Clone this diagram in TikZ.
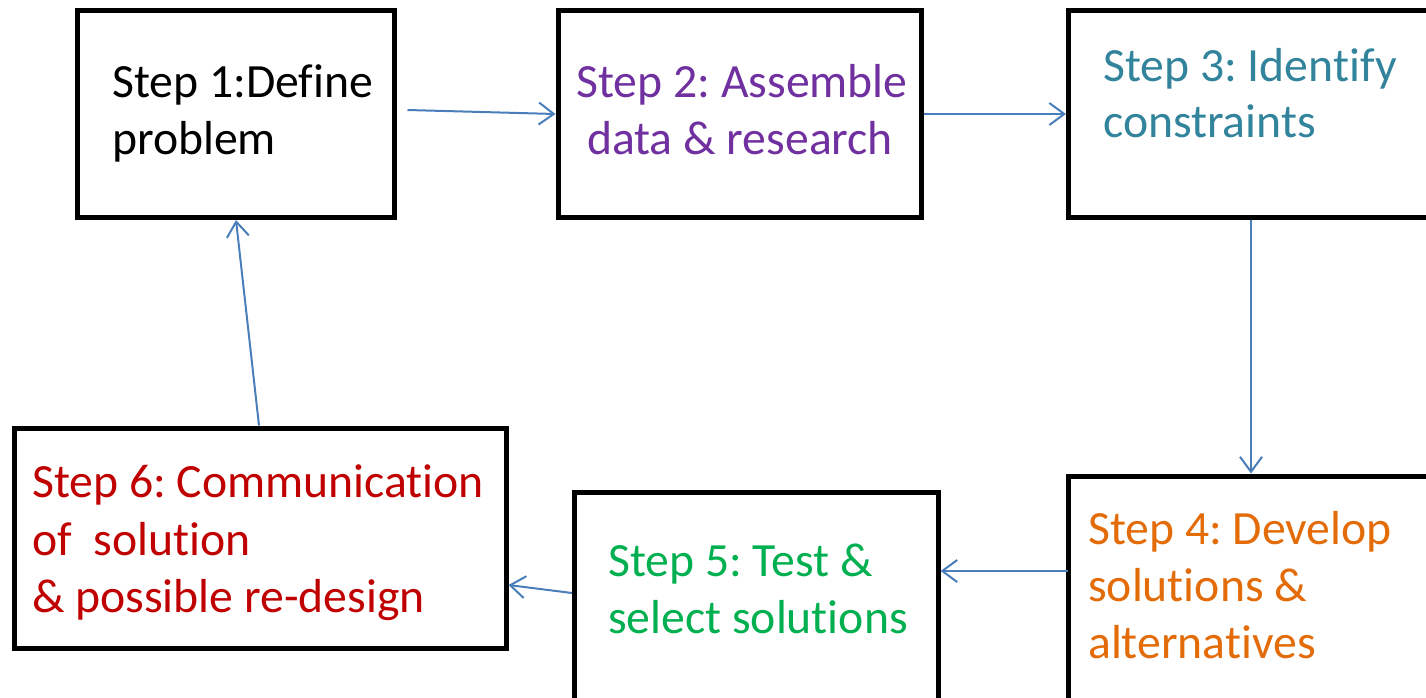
\documentclass[tikz,border=0pt]{standalone}
\usepackage{fontspec}
\setmainfont[Ligatures=NoCommon]{Carlito}
\usetikzlibrary{arrows.meta}
\definecolor{cpurple}{HTML}{7030A0}
\definecolor{cteal}{HTML}{31849B}
\definecolor{corange}{HTML}{E36C09}
\definecolor{cgreen}{HTML}{00B050}
\definecolor{cred}{HTML}{C00000}
\definecolor{carrow}{HTML}{4A7EBB}
\frenchspacing
\tikzset{
  stepbox/.style={draw=black, line width=5pt, fill=white, anchor=north west, inner sep=0pt, outer sep=0pt},
  txt/.style={anchor=base west, inner sep=0pt, font=\fontsize{47.7}{56}\selectfont},
  arr/.style={draw=carrow, line width=2pt, -{Straight Barb[length=15pt,width=22pt,line width=2pt]}}
}
\begin{document}
\begin{tikzpicture}[x=1pt,y=-1pt]
\useasboundingbox (0,0) rectangle (1426,697);
\clip (0,0) rectangle (1426,697);
% boxes
\node[stepbox, minimum width=317pt, minimum height=207pt] (b1) at (77.5,10.5) {};
\node[stepbox, minimum width=363pt, minimum height=207pt] (b2) at (558,10.5) {};
\node[stepbox, minimum width=430pt, minimum height=207pt] (b3) at (1068.5,10.5) {};
\node[stepbox, minimum width=430pt, minimum height=284pt] (b4) at (1068.5,476) {};
\node[stepbox, minimum width=364pt, minimum height=268pt] (b5) at (574,492) {};
\node[stepbox, minimum width=492pt, minimum height=220pt] (b6) at (14,428) {};
% texts
\node[txt] (t1a) at (112,97) {Step 1:Define};
\node[txt] (t1b) at (112,154) {problem};
\node[txt, anchor=base, text=cpurple] (t2a) at (742,97) {Step 2: Assemble};
\node[txt, anchor=base, text=cpurple] (t2b) at (740,154) {data \& research};
\node[txt, text=cteal] (t3a) at (1103,81) {Step 3: Identify};
\node[txt, text=cteal] (t3b) at (1103,137) {constraints};
\node[txt, text=corange] (t4a) at (1088,544) {Step 4: Develop};
\node[txt, text=corange] (t4b) at (1088,601) {solutions \&};
\node[txt, text=corange] (t4c) at (1088,658) {alternatives};
\node[txt, text=cgreen] (t5a) at (608,576) {Step 5: Test \&};
\node[txt, text=cgreen] (t5b) at (608,633) {select solutions};
\node[txt, text=cred] (t6a) at (32,497) {Step 6: Communication};
\node[txt, text=cred] (t6b) at (32,555) {of\ \ solution};
\node[txt, text=cred] (t6c) at (32,612) {\& possible re-design};
% connectors
\draw[arr] ([xshift=13pt,yshift=4pt]b1.east) -- ([xshift=-2.5pt]b2.west);
\draw[arr] ([xshift=2.5pt]b2.east) -- ([xshift=-2.5pt]b3.west);
\draw[arr] ([xshift=182.5pt,yshift=-2.5pt]b3.south west) -- ([xshift=182.5pt,yshift=2.5pt]b4.north west);
\draw[arr] ([xshift=-0.5pt,yshift=47pt]b4.west) -- ([xshift=2.5pt,yshift=55pt]b5.east);
\draw[arr] ([xshift=-2pt,yshift=33pt]b5.west) -- ([xshift=2.5pt,yshift=-47pt]b6.east);
\draw[arr] ([xshift=-1pt,yshift=2.5pt]b6.north) -- ([yshift=-2.5pt]b1.south);
\end{tikzpicture}
\end{document}
